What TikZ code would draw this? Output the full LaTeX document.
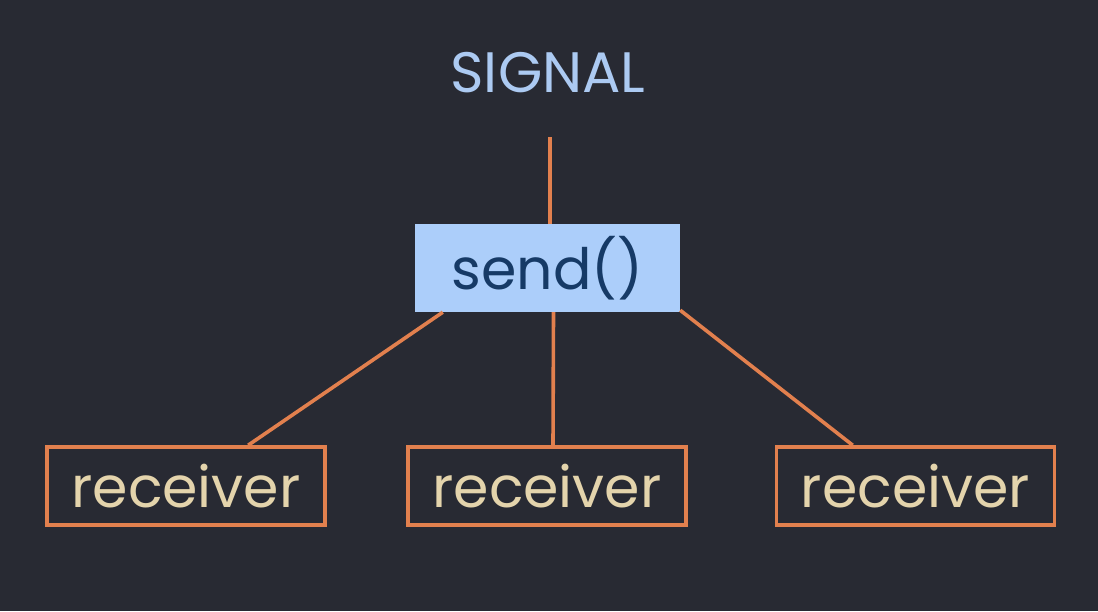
\documentclass[tikz,border=0pt]{standalone}
\usepackage{fontspec}
\setmainfont{Poppins}
\usetikzlibrary{calc}
\definecolor{bg}{RGB}{40,42,51}
\definecolor{org}{RGB}{226,128,78}
\definecolor{sigblue}{RGB}{172,202,242}
\definecolor{sendfill}{RGB}{172,206,250}
\definecolor{sendtext}{RGB}{22,58,102}
\definecolor{rectext}{RGB}{228,212,172}
\tikzset{
  conn/.style={draw=org, line width=3.6pt},
  sendbox/.style={fill=sendfill, draw=none, minimum width=265pt, minimum height=88pt, inner sep=0pt, text=sendtext, font=\fontsize{57}{66}\selectfont},
  recbox/.style={draw=org, line width=3.6pt, minimum width=278pt, minimum height=78pt, inner sep=0pt, text=rectext, font=\fontsize{57}{66}\selectfont},
  sigtext/.style={text=sigblue, inner sep=0pt, font=\fontsize{57}{66}\selectfont}
}
\begin{document}
\begin{tikzpicture}[x=1pt,y=-1pt]
\fill[bg] (0,0) rectangle (1098,611);
\useasboundingbox (0,0) rectangle (1098,611);
\node[sigtext] (sig) at (548,73) {SIGNAL};
\coordinate (sigbot) at (550,137);
\node[sendbox] (send) at (547.5,268) {send()};
\node[recbox] (r1) at (186,486) {receiver};
\node[recbox] (r2) at (547,486) {receiver};
\node[recbox] (r3) at (915.5,486) {receiver};
\draw[conn] (sigbot) -- (sigbot |- send.north);
\draw[conn] ([xshift=28pt]send.south west) -- ([xshift=203pt]r1.north west);
\draw[conn] ([xshift=6pt]send.south) -- ([xshift=6pt]r2.north);
\draw[conn] ([yshift=2pt]send.south east) -- ([xshift=78pt]r3.north west);
\end{tikzpicture}
\end{document}
